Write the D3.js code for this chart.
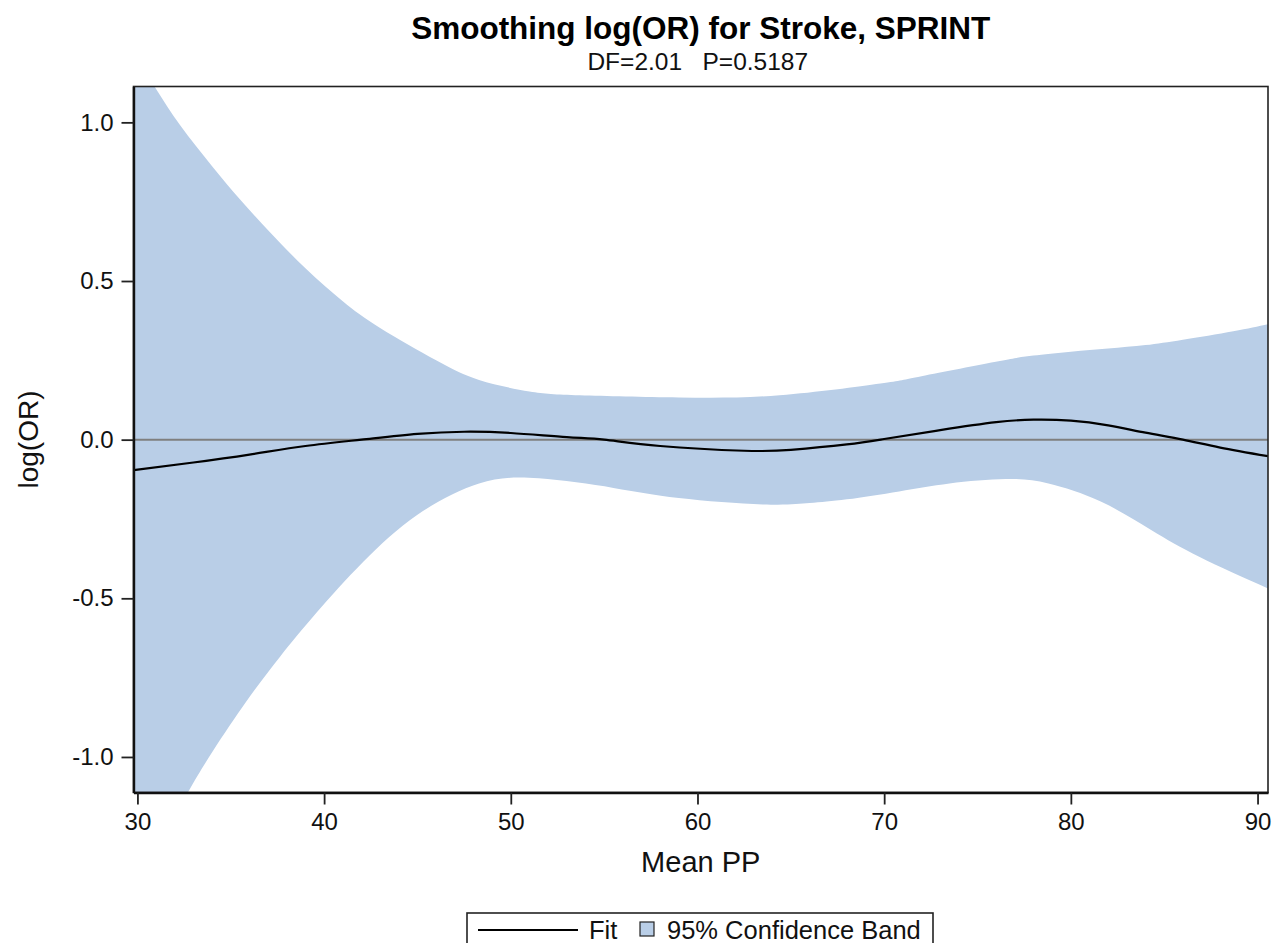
<!DOCTYPE html>
<html><head><meta charset="utf-8">
<script src="https://cdn.jsdelivr.net/npm/d3@7/dist/d3.min.js"></script>
<style>
html,body{margin:0;padding:0;background:#fff;}
svg{display:block;font-family:"Liberation Sans",Arial,sans-serif;}
</style></head>
<body>
<svg id="chart" width="1273" height="943"></svg>
<script>
// ---- data ----
const fitX = [29.8, 33, 36, 39, 42, 45, 47.5, 50, 53, 55, 58, 62.5, 65, 68, 70, 73, 76, 78, 80, 82, 84, 86, 88, 90.56];
const fitY = [-0.096, -0.072, -0.047, -0.02, 0.0, 0.018, 0.025, 0.021, 0.008, 0.0, -0.02, -0.035, -0.032, -0.015, 0.002, 0.03, 0.055, 0.063, 0.06, 0.045, 0.022, 0.0, -0.025, -0.052];
const upperX = [29.8, 31, 32.3, 34, 35.5, 37.1, 39, 41, 43, 46, 48.3, 51, 53.7, 59, 64.4, 69.8, 72, 76.2, 78, 80, 82, 84, 86, 88.7, 90.56];
const upperY = [1.219, 1.105, 0.99, 0.862, 0.757, 0.654, 0.54, 0.436, 0.352, 0.25, 0.188, 0.152, 0.14, 0.133, 0.14, 0.177, 0.2, 0.248, 0.265, 0.277, 0.287, 0.298, 0.315, 0.342, 0.364];
const lowerX = [29.8, 31, 32.7, 34.07, 35.86, 37.64, 39.6, 42.1, 45, 48.3, 51.5, 55.5, 59, 63.5, 66, 68, 70.8, 73.5, 76.5, 78.8, 81.6, 84.3, 86.9, 90.56];
const lowerY = [-1.424, -1.29, -1.112, -0.979, -0.823, -0.684, -0.545, -0.385, -0.237, -0.138, -0.122, -0.152, -0.184, -0.204, -0.2, -0.188, -0.163, -0.138, -0.124, -0.138, -0.195, -0.285, -0.37, -0.469];
const xTicks = [30, 40, 50, 60, 70, 80, 90];
const yTicks = [-1.0, -0.5, 0.0, 0.5, 1.0];
const titleText = "Smoothing log(OR) for Stroke, SPRINT";
const subtitleText = "DF=2.01   P=0.5187";
const xLabel = "Mean PP";
const yLabel = "log(OR)";
const legendFit = "Fit";
const legendBand = "95% Confidence Band";

// ---- layout ----
const L = 133.5, R = 1268, T = 86.5, B = 792.5;
const x = d3.scaleLinear().domain([29.79, 90.56]).range([L, R]);
const y = d3.scaleLinear().domain([-1.112, 1.113]).range([B, T]);
const svg = d3.select("#chart");
const bandColor = "#b9cee7";
const FONT = "Liberation Sans, Arial, sans-serif";

svg.append("defs").append("clipPath").attr("id","clip")
  .append("rect").attr("x",L).attr("y",T).attr("width",R-L).attr("height",B-T);

const lineGen = d3.line().x(d=>x(d[0])).y(d=>y(d[1])).curve(d3.curveNatural);

// band
const upPts = upperX.map((v,i)=>[v, upperY[i]]);
const lowPts = lowerX.map((v,i)=>[v, lowerY[i]]).reverse();
const upPath = lineGen(upPts);
const lowPath = lineGen(lowPts);
svg.append("path").attr("clip-path","url(#clip)")
  .attr("d", upPath + "L" + lowPath.slice(1) + "Z")
  .attr("fill", bandColor).attr("stroke","none");

// zero reference line
svg.append("line").attr("x1",L).attr("x2",R).attr("y1",y(0)).attr("y2",y(0))
  .attr("stroke","#7f7f7f").attr("stroke-width",2);

// fit line
const fitPts = fitX.map((v,i)=>[v, fitY[i]]);
svg.append("path").attr("clip-path","url(#clip)")
  .attr("d", lineGen(fitPts)).attr("fill","none")
  .attr("stroke","#000").attr("stroke-width",2.2);

// frame
svg.append("rect").attr("x",L).attr("y",T).attr("width",R-L).attr("height",B-T)
  .attr("fill","none").attr("stroke","#222").attr("stroke-width",1.6);

// axes
const hyphen = f => d => f(d).replace("\u2212","-");
const xAxis = d3.axisBottom(x).tickValues(xTicks).tickFormat(d3.format("d")).tickSizeOuter(0).tickSizeInner(12).tickPadding(8);
const gx = svg.append("g").attr("transform",`translate(0,${B})`).call(xAxis);
gx.select(".domain").attr("stroke","#111").attr("stroke-width",2.4);
gx.selectAll(".tick line").attr("stroke","#222").attr("stroke-width",1.8);
gx.selectAll(".tick text").attr("font-size",24).attr("fill","#111").attr("font-family",FONT);

const yAxis = d3.axisLeft(y).tickValues(yTicks).tickFormat(hyphen(d3.format(".1f"))).tickSizeOuter(0).tickSizeInner(12).tickPadding(8);
const gy = svg.append("g").attr("transform",`translate(${L},0)`).call(yAxis);
gy.select(".domain").attr("stroke","#111").attr("stroke-width",2.4);
gy.selectAll(".tick line").attr("stroke","#222").attr("stroke-width",1.8);
gy.selectAll(".tick text").attr("font-size",24).attr("fill","#111").attr("font-family",FONT);

// titles
const cx = (L+R)/2;
svg.append("text").attr("x",cx).attr("y",39).attr("text-anchor","middle")
  .attr("font-size",31.5).attr("font-weight","bold").attr("fill","#000").text(titleText);
svg.append("text").attr("x",cx-3).attr("y",70).attr("text-anchor","middle")
  .attr("font-size",24.5).attr("fill","#111").style("white-space","pre").text(subtitleText);

// axis labels
svg.append("text").attr("x",cx).attr("y",872).attr("text-anchor","middle")
  .attr("font-size",29).attr("fill","#111").text(xLabel);
svg.append("text").attr("transform",`translate(38,${(T+B)/2}) rotate(-90)`).attr("text-anchor","middle")
  .attr("font-size",28).attr("fill","#111").text(yLabel);

// legend
const lg = svg.append("g");
lg.append("rect").attr("x",467).attr("y",913).attr("width",466).attr("height",50)
  .attr("fill","#fff").attr("stroke","#222").attr("stroke-width",1.6);
lg.append("line").attr("x1",478).attr("x2",578).attr("y1",930).attr("y2",930)
  .attr("stroke","#000").attr("stroke-width",2);
lg.append("text").attr("x",589).attr("y",939).attr("font-size",25.5).attr("fill","#111").text(legendFit);
lg.append("rect").attr("x",640).attr("y",922).attr("width",14).attr("height",14)
  .attr("fill",bandColor).attr("stroke","#222").attr("stroke-width",1.2);
lg.append("text").attr("x",667).attr("y",939).attr("font-size",25.5).attr("fill","#111").text(legendBand);
</script>
</body></html>
